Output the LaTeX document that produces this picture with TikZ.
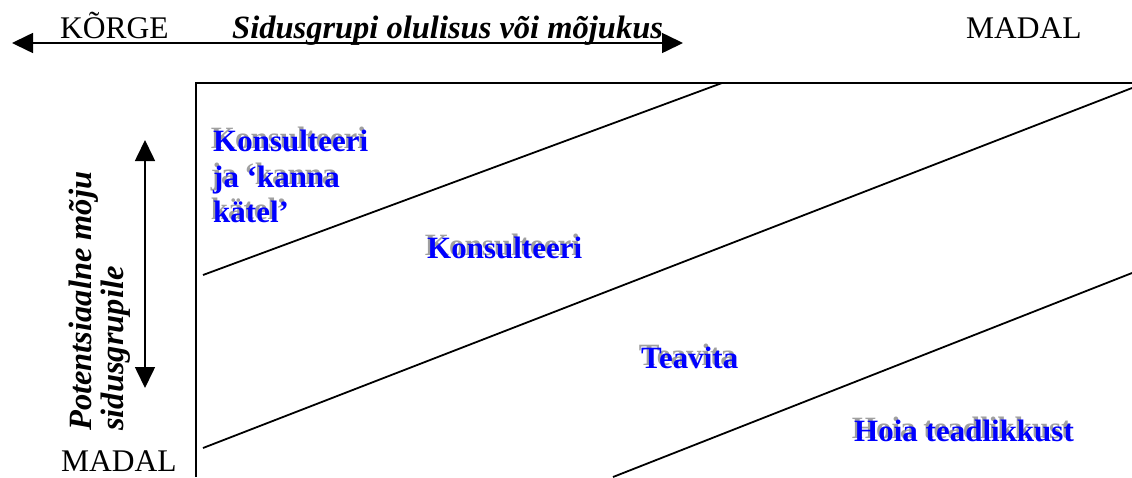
\documentclass[tikz,border=0pt]{standalone}
\usepackage{fontspec}
\setmainfont{Liberation Serif}
\usetikzlibrary{arrows.meta}
\definecolor{lblblue}{RGB}{0,0,255}
\definecolor{shgray}{RGB}{160,160,160}
\newcommand{\shd}[1]{\makebox[0pt][l]{\raisebox{2.3pt}{\kern-2.3pt\textcolor{shgray}{#1}}}#1}
\begin{document}
\begin{tikzpicture}[x=1pt,y=-1pt,inner sep=0pt,
  frame/.style={line width=1.4pt},
  diag/.style={line width=1.8pt},
  axis/.style={line width=1.6pt,{Triangle[length=21pt,width=20pt]}-{Triangle[length=21pt,width=20pt]}},
  plain/.style={anchor=base west,font=\fontsize{31.5}{35}\selectfont},
  title/.style={anchor=base west,font=\fontsize{32.5}{35}\selectfont\bfseries\itshape},
  zone/.style={anchor=base west,text=lblblue,font=\fontsize{31}{35.5}\selectfont\bfseries}]
\useasboundingbox (0,0) rectangle (1132,477);
% axes
\coordinate (hl) at (12,43);
\coordinate (hr) at (683,43);
\draw[axis] (hl) -- (hr);
\coordinate (vt) at (145,140);
\coordinate (vb) at (145,388);
\draw[axis] (vt) -- (vb);
% frame
\coordinate (tl) at (196,83);
\coordinate (tr) at (1132,83);
\coordinate (bl) at (196,477);
\draw[frame] (bl) -- (tl) -- (tr);
% diagonals
\coordinate (d1a) at (203,275);
\coordinate (d1b) at (722,83);
\coordinate (d2a) at (203,448);
\coordinate (d2b) at (1132,88);
\coordinate (d3a) at (613,477);
\coordinate (d3b) at (1132,273);
\draw[diag] (d1a) -- (d1b);
\draw[diag] (d2a) -- (d2b);
\draw[diag] (d3a) -- (d3b);
% texts
\node[plain] (korge) at (60,38) {KÕRGE};
\node[title] (ttl) at (232,38) {Sidusgrupi olulisus või mõjukus};
\node[plain] (madal1) at (966,38) {MADAL};
\node[plain] (madal2) at (61,471) {MADAL};
\node[title,rotate=90] (pot1) at (91,431) {Potentsiaalne mõju};
\node[title,rotate=90] (pot2) at (123,431) {sidusgrupile};
% zones
\node[zone] (z1a) at (213,151) {\shd{Konsulteeri}};
\node[zone] (z1b) at (213,187) {\shd{ja ‘kanna}};
\node[zone] (z1c) at (213,222) {\shd{kätel’}};
\node[zone] (z2) at (427,258) {\shd{Konsulteeri}};
\node[zone] (z3) at (641,368) {\shd{Teavita}};
\node[zone] (z4) at (854,441) {\shd{Hoia teadlikkust}};
\end{tikzpicture}
\end{document}
